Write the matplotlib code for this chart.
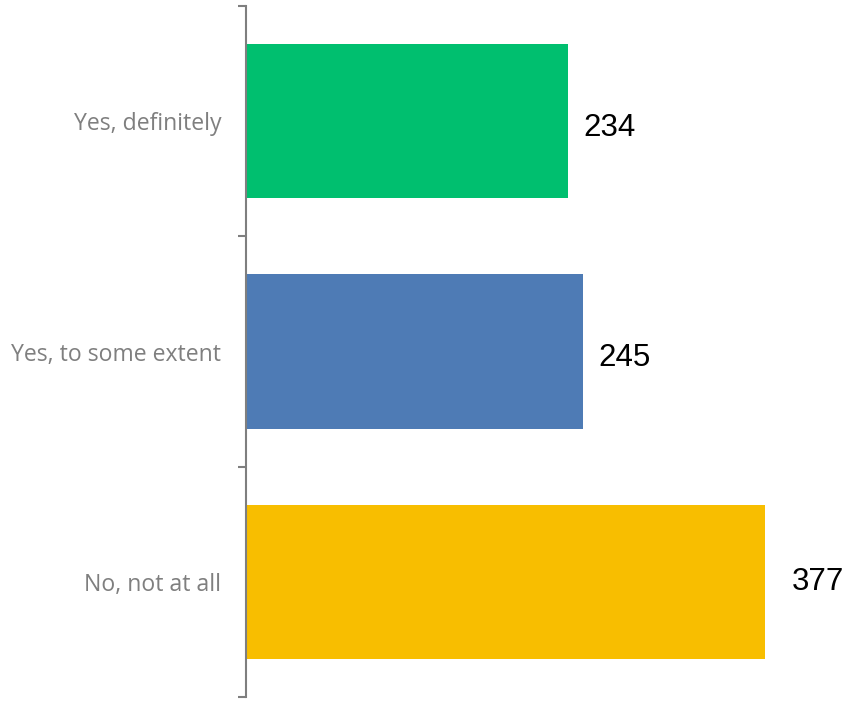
import matplotlib.pyplot as plt

categories = ["Yes, definitely", "Yes, to some extent", "No, not at all"]
counts = [234, 245, 377]
colors = ["#00BF6F", "#4E7BB5", "#F8BE00"]

fig = plt.figure(figsize=(8.5, 7.02), dpi=100)
ax = fig.add_axes([246 / 850, 5 / 702, (780 - 246) / 850, 691 / 702])

pos = list(range(len(categories)))
ax.barh(pos, counts, height=0.67, color=colors)
ax.set_ylim(len(categories) - 0.5, -0.5)
ax.set_xlim(0, (780 - 246) / 1.376)

# data labels sit a little further out on the longest bar in the original
label_dx = [11.5, 11, 19.5]
label_dy = [0.03, 0.03, 0.0]
for p, v, dx, dy in zip(pos, counts, label_dx, label_dy):
    ax.text(v + dx, p + dy, str(v), va="center", ha="left",
            fontsize=22.5, family="Liberation Sans", color="black", clip_on=False)

ax.set_yticks(pos)
ax.set_yticklabels(categories, fontsize=16.6, family="Open Sans", color="#7F7F7F")
ax.tick_params(axis="y", which="major", length=0, pad=18)
ax.set_yticks([-0.5, 0.5, 1.5, 2.5], minor=True)
ax.tick_params(axis="y", which="minor", length=6, width=1.5, color="#7F7F7F")

ax.set_xticks([])
for s in ["top", "right", "bottom"]:
    ax.spines[s].set_visible(False)
ax.spines["left"].set_color("#7F7F7F")
ax.spines["left"].set_linewidth(1.5)

fig.savefig("out.png", dpi=100)
